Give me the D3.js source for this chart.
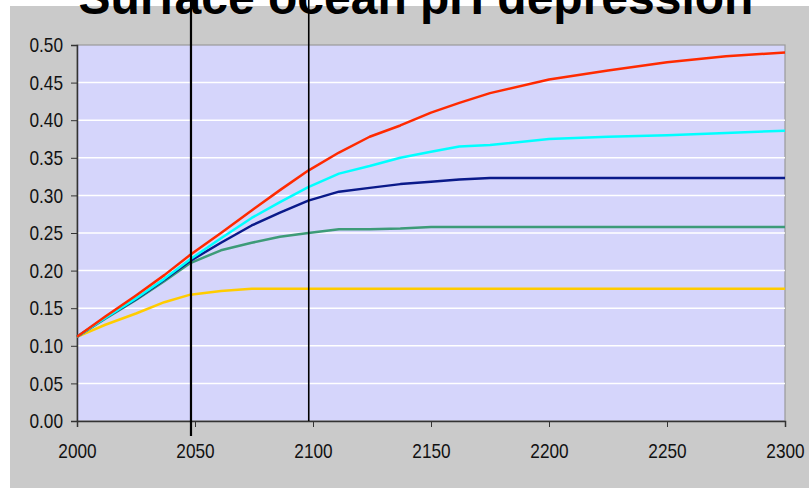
<!DOCTYPE html>
<html><head><meta charset="utf-8">
<script src="https://cdn.jsdelivr.net/npm/d3@7"></script>
<style>
html,body{margin:0;padding:0;background:#fff;}
svg{display:block;}
</style></head>
<body>
<svg id="c" width="809" height="488"></svg>
<script>
const titleText = "Surface ocean pH depression";
const years = [2000, 2012, 2025, 2037, 2048, 2061, 2074, 2086, 2098, 2111, 2124, 2137, 2150, 2162, 2175, 2200, 2225, 2250, 2275, 2300];
const redSeries    = [0.112, 0.139, 0.167, 0.194, 0.221, 0.250, 0.280, 0.307, 0.333, 0.357, 0.378, 0.393, 0.410, 0.423, 0.436, 0.454, 0.466, 0.477, 0.485, 0.490];
const cyanSeries   = [0.112, 0.137, 0.163, 0.189, 0.215, 0.243, 0.270, 0.291, 0.311, 0.329, 0.339, 0.350, 0.358, 0.365, 0.367, 0.375, 0.378, 0.380, 0.383, 0.386];
const navySeries   = [0.112, 0.137, 0.162, 0.188, 0.213, 0.237, 0.260, 0.277, 0.293, 0.305, 0.310, 0.315, 0.318, 0.321, 0.323, 0.323, 0.323, 0.323, 0.323, 0.323];
const greenSeries  = [0.112, 0.136, 0.161, 0.186, 0.210, 0.227, 0.237, 0.245, 0.250, 0.255, 0.255, 0.256, 0.258, 0.258, 0.258, 0.258, 0.258, 0.258, 0.258, 0.258];
const yellowSeries = [0.112, 0.128, 0.143, 0.158, 0.168, 0.173, 0.176, 0.176, 0.176, 0.176, 0.176, 0.176, 0.176, 0.176, 0.176, 0.176, 0.176, 0.176, 0.176, 0.176];
const xTicks = [2000, 2050, 2100, 2150, 2200, 2250, 2300];
const yTicks = [0, 0.05, 0.10, 0.15, 0.20, 0.25, 0.30, 0.35, 0.40, 0.45, 0.50];
const markerYears = [2048.3, 2098.2];
const markerBottoms = [-0.02, 0];

const series = [
  {values: yellowSeries, color: "#ffcc00"},
  {values: greenSeries,  color: "#3d9b78"},
  {values: navySeries,   color: "#0a1a8a"},
  {values: cyanSeries,   color: "#00ffff"},
  {values: redSeries,    color: "#ff2a00"}
];

const W = 809, H = 488;
const svg = d3.select("#c");
const x = d3.scaleLinear().domain([2000, 2300]).range([77, 785]);
const y = d3.scaleLinear().domain([0, 0.5]).range([421, 45]);
const labelFont = "'Liberation Sans',Arial,sans-serif";

// chart area background
svg.append("rect").attr("x", 10).attr("y", 6).attr("width", W - 10).attr("height", H - 6).attr("fill", "#cacaca");

// title (clipped at top, as in the reference)
svg.append("text").attr("x", 416).attr("y", 14).attr("text-anchor", "middle")
  .attr("font-family", "'Liberation Sans',Arial,sans-serif").attr("font-weight", "bold")
  .attr("font-size", 48).attr("fill", "#000").text(titleText);

// plot area
svg.append("rect").attr("x", x(2000)).attr("y", y(0.5)).attr("width", x(2300) - x(2000)).attr("height", y(0) - y(0.5))
  .attr("fill", "#d5d5fb").attr("stroke", "#9a9a9a").attr("stroke-width", 1.2);

// gridlines
svg.append("g").selectAll("line").data(yTicks.filter(v => v > 0 && v < 0.5)).join("line")
  .attr("x1", x(2000)).attr("x2", x(2300)).attr("y1", d => y(d)).attr("y2", d => y(d))
  .attr("stroke", "#ffffff").attr("stroke-width", 1.5);

// axes
const yAxis = d3.axisLeft(y).tickValues(yTicks).tickFormat(d3.format(".2f")).tickSize(6).tickPadding(8);
const gy = svg.append("g").attr("transform", `translate(${x(2000)},0)`).call(yAxis);
const xAxis = d3.axisBottom(x).tickValues(xTicks).tickFormat(d3.format("d")).tickSize(6).tickPadding(16);
const gx = svg.append("g").attr("transform", `translate(0,${y(0)})`).call(xAxis);
[gy, gx].forEach(g => {
  g.select(".domain").attr("stroke", "#333").attr("stroke-width", 1.5);
  g.selectAll(".tick line").attr("stroke", "#333").attr("stroke-width", 1);
  g.selectAll("text").attr("font-family", labelFont).attr("font-size", 21).attr("fill", "#111")
    .each(function() {
      const t = d3.select(this);
      const tx = +t.attr("x") || 0;
      t.attr("x", 0).attr("transform", `translate(${tx},0) scale(0.82,1)`);
    });
});

// series lines
const line = d3.line().x((d, i) => x(years[i])).y(d => y(d));
svg.append("g").selectAll("path").data(series).join("path")
  .attr("d", d => line(d.values)).attr("fill", "none")
  .attr("stroke", d => d.color).attr("stroke-width", 2.5).attr("stroke-linejoin", "round");

// vertical marker lines
svg.append("g").selectAll("line").data(markerYears).join("line")
  .attr("x1", d => x(d)).attr("x2", d => x(d))
  .attr("y1", 0).attr("y2", (d, i) => y(markerBottoms[i]))
  .attr("stroke", "#000").attr("stroke-width", (d, i) => i === 0 ? 2.2 : 1.6);
</script>
</body></html>
